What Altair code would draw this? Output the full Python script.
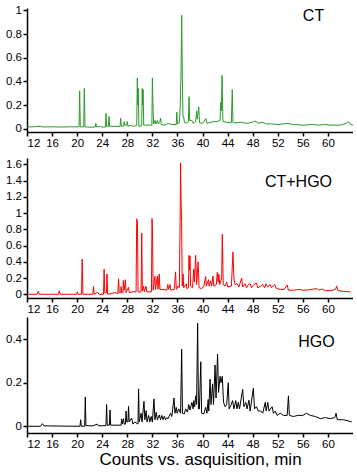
import altair as alt
import pandas as pd

# ---------------- data ----------------
x_ticks = [12, 16, 20, 24, 28, 32, 36, 40, 44, 48, 52, 56, 60]
ct_yticks = [0, 0.2, 0.4, 0.6, 0.8, 1]
mix_yticks = [0, 0.2, 0.4, 0.6, 0.8, 1, 1.2, 1.4, 1.6]
hgo_yticks = [0, 0.2, 0.4]
labels = ["CT", "CT+HGO", "HGO"]
x_title = "Counts vs. asquisition, min"

ct_t = [12.0, 13.0, 14.1, 14.5, 16.0, 17.5, 19.0, 20.3, 20.4, 20.5, 21.05, 21.14, 21.25,
        22.3, 22.9, 22.98, 23.1, 23.7, 24.0, 24.52, 24.6, 24.7, 24.98, 25.08, 25.18, 26.0,
        26.85, 26.94, 27.05, 27.4, 27.5, 27.6, 27.9, 28.0, 28.1, 28.5, 29.0, 29.5, 29.6,
        29.68, 29.75, 29.85, 30.3, 30.38, 30.45, 30.52, 30.62, 31.2, 31.92, 32.0, 32.1,
        32.2, 32.4, 32.55, 32.8, 32.95, 33.2, 33.3, 33.42, 34.0, 34.5, 35.0, 35.8, 35.9,
        36.0, 36.3, 36.45, 36.58, 36.67, 36.78, 36.88, 37.0, 37.12, 37.5, 37.75, 37.84,
        37.95, 38.3, 38.5, 38.9, 39.06, 39.15, 39.4, 39.52, 40.0, 40.55, 40.7, 41.7, 42.3,
        42.8, 42.9, 43.0, 43.12, 43.25, 43.8, 44.6, 44.74, 44.86, 45.5, 46.2, 47.0, 47.6,
        48.5, 48.8, 49.5, 50.2, 51.0, 52.0, 53.5, 54.5, 56.0, 57.5, 58.5, 59.5, 60.5, 62.0,
        62.9, 63.25, 63.6, 64.0]
ct_v = [0.015, 0.016, 0.02, 0.015, 0.016, 0.014, 0.016, 0.015, 0.32, 0.015, 0.015, 0.34, 0.015,
        0.012, 0.015, 0.045, 0.015, 0.02, 0.012, 0.015, 0.13, 0.02, 0.02, 0.105, 0.02, 0.02,
        0.02, 0.09, 0.02, 0.02, 0.06, 0.03, 0.03, 0.06, 0.02, 0.03, 0.02, 0.025, 0.43,
        0.2, 0.34, 0.02, 0.025, 0.34, 0.2, 0.33, 0.03, 0.03, 0.03, 0.43, 0.19,
        0.04, 0.07, 0.04, 0.07, 0.04, 0.06, 0.09, 0.035, 0.03, 0.045, 0.035, 0.035, 0.14,
        0.04, 0.05, 0.2, 0.5, 0.96, 0.43, 0.1, 0.1, 0.05, 0.05, 0.06, 0.27,
        0.07, 0.07, 0.045, 0.06, 0.15, 0.08, 0.185, 0.05, 0.045, 0.085, 0.045, 0.06, 0.06,
        0.07, 0.22, 0.15, 0.45, 0.06, 0.055, 0.05, 0.33, 0.05, 0.05, 0.055, 0.045, 0.05,
        0.065, 0.045, 0.055, 0.04, 0.04, 0.035, 0.045, 0.035, 0.03, 0.035, 0.03, 0.035, 0.03, 0.03,
        0.045, 0.06, 0.035, 0.03]

mix_t = [12.0, 13.6, 13.8, 14.0, 17.0, 17.15, 17.3, 19.9, 20.03, 20.15, 20.7, 20.8, 20.92,
         22.5, 22.6, 22.72, 23.3, 23.5, 24.2, 24.3, 24.4, 24.66, 24.76, 24.86, 26.0, 26.5,
         26.6, 26.7, 26.95, 27.0, 27.1, 27.3, 27.36, 27.5, 27.7, 27.8, 28.2, 28.3, 28.8,
         29.4, 29.5, 29.62, 29.72, 30.2, 30.3, 30.4, 30.6, 30.7, 31.0, 31.1, 31.85, 31.94,
         32.02, 32.12, 32.4, 32.5, 32.8, 32.9, 33.1, 33.2, 33.7, 34.3, 34.44, 34.6, 34.8,
         34.95, 35.5, 35.7, 35.82, 36.1, 36.3, 36.42, 36.5, 36.58, 36.66, 36.76, 36.9, 37.0,
         37.4, 37.5, 37.75, 37.84, 37.92, 38.0, 38.1, 38.4, 38.6, 38.7, 38.9, 39.05, 39.3,
         39.45, 39.9, 40.2, 40.5, 40.6, 40.95, 41.05, 41.3, 41.45, 41.67, 41.8, 42.2, 42.35,
         42.5, 42.6, 42.75, 43.05, 43.15, 43.3, 43.6, 43.85, 44.0, 44.6, 44.85, 45.0, 45.2,
         45.5, 45.8, 46.24, 46.4, 46.8, 47.0, 47.3, 47.6, 47.8, 48.2, 48.6, 48.8, 49.3, 49.6,
         49.9, 50.1, 50.4, 50.8, 51.0, 51.5, 51.8, 52.4, 53.0, 53.5, 53.7, 54.5, 55.4, 56.0,
         57.0, 58.2, 58.6, 59.1, 59.6, 60.5, 61.2, 61.4, 61.6, 62.5, 63.6]
mix_v = [0.0, 0.0, 0.037, 0.0, 0.0, 0.045, 0.0, 0.0, 0.03, 0.0, 0.0, 0.435, 0.0,
         0.0, 0.095, 0.0, 0.025, 0.0, 0.0, 0.31, 0.02, 0.02, 0.25, 0.0, 0.02, 0.01,
         0.19, 0.02, 0.02, 0.095, 0.02, 0.02, 0.17, 0.05, 0.18, 0.02, 0.085, 0.02, 0.03,
         0.03, 0.93, 0.87, 0.03, 0.03, 0.755, 0.04, 0.1, 0.03, 0.1, 0.03, 0.03, 0.935,
         0.8, 0.05, 0.22, 0.06, 0.225, 0.06, 0.25, 0.06, 0.06, 0.05, 0.12, 0.06, 0.12,
         0.05, 0.06, 0.276, 0.06, 0.1, 0.08, 0.9, 1.62, 1.15, 0.9, 0.1, 0.25, 0.08,
         0.13, 0.07, 0.08, 0.48, 0.3, 0.47, 0.1, 0.08, 0.31, 0.15, 0.48, 0.12, 0.4,
         0.08, 0.07, 0.1, 0.22, 0.1, 0.18, 0.1, 0.165, 0.1, 0.225, 0.1, 0.12, 0.27,
         0.15, 0.25, 0.12, 0.2, 0.74, 0.12, 0.1, 0.15, 0.09, 0.1, 0.52, 0.2, 0.12,
         0.13, 0.09, 0.2, 0.09, 0.13, 0.08, 0.12, 0.13, 0.08, 0.12, 0.14, 0.08, 0.1, 0.12,
         0.08, 0.13, 0.09, 0.12, 0.08, 0.12, 0.07, 0.06, 0.06, 0.115, 0.05, 0.05, 0.06, 0.05,
         0.055, 0.07, 0.05, 0.065, 0.045, 0.045, 0.06, 0.1, 0.045, 0.035, 0.03]

hgo_t = [12.0, 14.2, 14.45, 14.7, 17.0, 20.0, 20.45, 20.56, 20.66, 21.2, 21.3, 21.4, 22.5,
         23.2, 23.4, 24.6, 24.7, 24.8, 25.14, 25.24, 25.34, 26.5, 27.0, 27.1, 27.2, 27.4,
         27.5, 27.7, 27.8, 27.9, 28.1, 28.2, 28.3, 28.7, 28.9, 29.2, 29.7, 29.8, 29.9, 30.2,
         30.35, 30.66, 30.8, 31.0, 31.15, 31.4, 31.6, 31.8, 32.0, 32.25, 32.4, 32.6, 32.8,
         33.1, 33.3, 33.5, 33.7, 33.9, 34.1, 34.3, 34.5, 34.9, 35.1, 35.45, 35.6, 35.8,
         35.95, 36.2, 36.5, 36.67, 36.8, 37.1, 37.3, 37.6, 37.8, 38.0, 38.3, 38.5, 38.6,
         38.75, 38.9, 39.05, 39.22, 39.35, 39.5, 39.72, 39.85, 40.2, 40.5, 40.7, 40.9, 41.0,
         41.2, 41.35, 41.6, 41.75, 42.0, 42.15, 42.4, 42.55, 42.8, 42.95, 43.15, 43.35, 43.6,
         43.85, 44.1, 44.25, 44.5, 44.8, 45.0, 45.3, 45.5, 45.7, 45.9, 46.4, 46.6, 46.9, 47.1,
         47.4, 47.6, 48.1, 48.3, 48.6, 48.9, 49.3, 49.6, 50.0, 50.15, 50.4, 50.6, 51.1, 51.3,
         51.6, 51.9, 52.4, 52.9, 53.5, 53.7, 53.85, 54.5, 55.2, 56.0, 56.6, 57.2, 58.0, 58.8,
         59.6, 60.4, 61.1, 61.3, 61.5, 62.5, 63.8]
hgo_v = [0.0, 0.0, 0.012, 0.002, 0.001, 0.0, 0.0, 0.03, 0.0, 0.0, 0.135, 0.003, 0.002,
         0.01, 0.002, 0.003, 0.1, 0.005, 0.005, 0.075, 0.005, 0.005, 0.005, 0.034, 0.01, 0.035,
         0.01, 0.01, 0.07, 0.02, 0.02, 0.092, 0.02, 0.038, 0.01, 0.02, 0.01, 0.172, 0.02, 0.06,
         0.02, 0.115, 0.03, 0.072, 0.02, 0.05, 0.02, 0.045, 0.02, 0.126, 0.03, 0.064, 0.03,
         0.052, 0.03, 0.05, 0.03, 0.046, 0.03, 0.04, 0.035, 0.06, 0.045, 0.13, 0.06, 0.087,
         0.06, 0.08, 0.06, 0.355, 0.06, 0.057, 0.08, 0.065, 0.1, 0.075, 0.11, 0.08, 0.118,
         0.09, 0.14, 0.1, 0.475, 0.08, 0.08, 0.297, 0.06, 0.057, 0.087, 0.06, 0.123, 0.07,
         0.217, 0.1, 0.195, 0.1, 0.282, 0.13, 0.332, 0.156, 0.23, 0.2, 0.23, 0.11, 0.09,
         0.1, 0.2, 0.08, 0.095, 0.118, 0.08, 0.118, 0.08, 0.11, 0.08, 0.17, 0.09, 0.11, 0.08,
         0.12, 0.07, 0.175, 0.08, 0.09, 0.07, 0.07, 0.06, 0.11, 0.07, 0.11, 0.07, 0.09, 0.06,
         0.07, 0.05, 0.06, 0.05, 0.05, 0.14, 0.05, 0.045, 0.05, 0.05, 0.06, 0.05, 0.045, 0.035,
         0.04, 0.035, 0.04, 0.06, 0.03, 0.03, 0.02]

FONT = "Liberation Sans"
W = 326


def panel(t, v, color, label, yticks, ydom, height, lx, ly, title=False):
    df = pd.DataFrame({"t": t, "v": v})
    if title:
        xaxis = alt.Axis(values=x_ticks, format="d", title=x_title, titleX=173,
                         titleAlign="center", titleAnchor="start", titlePadding=2)
    else:
        xaxis = alt.Axis(values=x_ticks, format="d", title=None)
    line = alt.Chart(df).mark_line(color=color, strokeWidth=1, clip=True).encode(
        x=alt.X("t:Q", scale=alt.Scale(domain=[12, 64], nice=False, zero=False), axis=xaxis),
        y=alt.Y("v:Q", scale=alt.Scale(domain=ydom, nice=False, zero=False),
                axis=alt.Axis(values=yticks, format="~g", title=None)),
    )
    txt = alt.Chart(pd.DataFrame({"label": [label]})).mark_text(
        font=FONT, fontSize=16, align="center", baseline="alphabetic", color="black"
    ).encode(text="label:N", x=alt.value(lx), y=alt.value(ly))
    return alt.layer(line, txt).properties(width=W, height=height)


p1 = panel(ct_t, ct_v, "#2a9a2a", labels[0], ct_yticks, [-0.028, 1.02], 124, 286.5, 13)
p2 = panel(mix_t, mix_v, "#ff0000", labels[1], mix_yticks, [-0.046, 1.68], 140, 271.5, 29.3)
p3 = panel(hgo_t, hgo_v, "#000000", labels[2], hgo_yticks, [-0.031, 0.503], 116, 289.5, 29.7, title=True)

chart = alt.vconcat(p1, alt.vconcat(p2, p3, spacing=2), spacing=9).properties(
    padding={"left": 5, "top": 4, "right": 0, "bottom": 0}
).configure_view(strokeWidth=0).configure_axis(
    domainColor="black", domainWidth=1.5, tickColor="black", tickWidth=1.5, tickSize=4,
    labelFont=FONT, labelFontSize=11.5, labelColor="black", grid=False,
    titleFont=FONT, titleFontSize=17, titleColor="black", titleFontWeight="normal",
).configure_axisX(labelPadding=1).configure_axisY(labelPadding=1.5)

chart.save("out.html", embed_options={"renderer": "svg", "actions": False})
